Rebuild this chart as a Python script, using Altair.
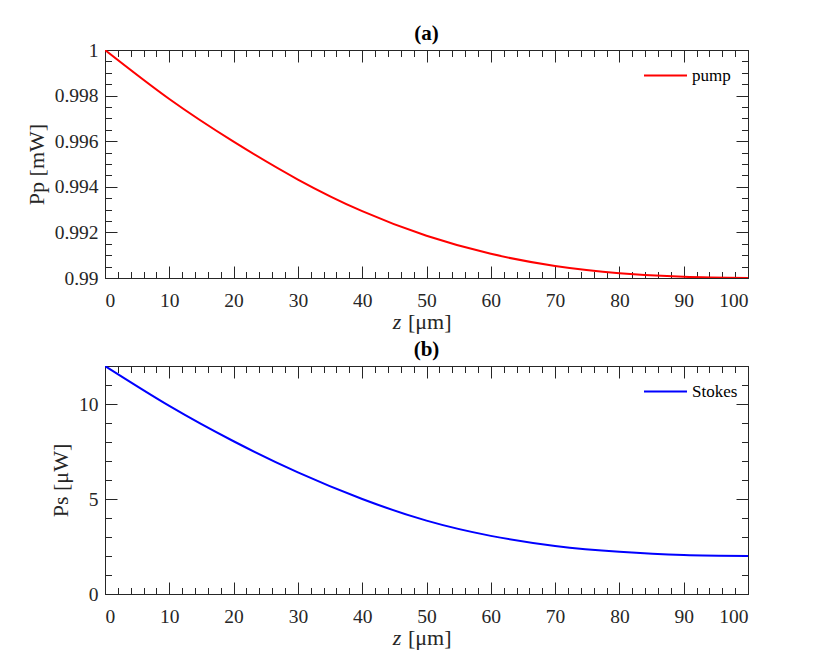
import altair as alt
import pandas as pd

FONT = "Liberation Serif"
INK = "#262626"

# ---- data ----
z_vals = [0, 10, 20, 30, 40, 50, 60, 70, 80, 90, 100]
pump_vals = [1.0, 0.99785, 0.99598, 0.99432, 0.99293, 0.99185, 0.99106, 0.99053, 0.99021, 0.99005, 0.99000]
stokes_vals = [12.0, 9.90, 8.04, 6.40, 5.00, 3.86, 3.06, 2.53, 2.22, 2.05, 2.0]

x_major = [0, 10, 20, 30, 40, 50, 60, 70, 80, 90, 100]
x_minor = list(range(0, 101, 2))
pump_major = [0.99, 0.992, 0.994, 0.996, 0.998, 1.0]
pump_minor = [round(0.99 + 0.0005 * i, 4) for i in range(21)]
stokes_major = [0, 5, 10]
stokes_minor = list(range(0, 13))

W, H = 643, 228
MAJ, MIN = 12, 6.5


def axis(orient, values, size, labels, title=None, fmt=None, label_pad=7):
    kw = dict(orient=orient, values=values, tickSize=size, offset=-size,
              labels=labels, grid=False, domain=False, tickColor=INK,
              tickWidth=1, title=title, minExtent=0, maxExtent=120)
    if labels:
        kw.update(labelFont=FONT, labelFontSize=19.5, labelColor=INK,
                  labelPadding=label_pad)
        if fmt:
            kw["format"] = fmt
    if title:
        kw.update(titleFont=FONT, titleFontSize=22, titleFontWeight="normal",
                  titleColor=INK, titlePadding=6)
    return kw


def panel(df, ycol, ydom, ymaj, ymin, yfmt, ytitle, color, name, title):
    xs = alt.Scale(domain=[0, 100], nice=False)
    ys = alt.Scale(domain=ydom, nice=False, zero=False)
    base = alt.Chart(df)

    line = base.mark_line(strokeWidth=2, interpolate="natural", clip=True).encode(
        x=alt.X("z:Q", scale=xs, axis=alt.Axis(**axis("bottom", x_major, MAJ, True, fmt="d", label_pad=13))),
        y=alt.Y(f"{ycol}:Q", scale=ys, axis=alt.Axis(**axis("left", ymaj, MAJ, True, title=ytitle, fmt=yfmt))),
        color=alt.Color("series:N",
                        scale=alt.Scale(domain=[name], range=[color]),
                        legend=alt.Legend(orient="none", legendX=W - 105, legendY=3,
                                          title=None, symbolType="stroke",
                                          symbolSize=1849, symbolStrokeWidth=2,
                                          labelFont=FONT, labelFontSize=17,
                                          labelColor="black", labelOffset=4,
                                          padding=0)),
    )
    minor1 = base.mark_line(opacity=0).encode(
        x=alt.X("z:Q", scale=xs, axis=alt.Axis(**axis("bottom", x_minor, MIN, False))),
        y=alt.Y(f"{ycol}:Q", scale=ys, axis=alt.Axis(**axis("left", ymin, MIN, False))),
    )
    major2 = base.mark_line(opacity=0).encode(
        x=alt.X("z:Q", scale=xs, axis=alt.Axis(**axis("top", x_major, MAJ, False))),
        y=alt.Y(f"{ycol}:Q", scale=ys, axis=alt.Axis(**axis("right", ymaj, MAJ, False))),
    )
    minor2 = base.mark_line(opacity=0).encode(
        x=alt.X("z:Q", scale=xs, axis=alt.Axis(**axis("top", x_minor, MIN, False))),
        y=alt.Y(f"{ycol}:Q", scale=ys, axis=alt.Axis(**axis("right", ymin, MIN, False))),
    )
    zt = alt.Chart(pd.DataFrame({"t": ["z"]})).mark_text(
        font=FONT, fontSize=22, fontStyle="italic", align="center",
        baseline="alphabetic", color=INK).encode(
        text="t:N", x=alt.value(292), y=alt.value(H + 51))
    ut = alt.Chart(pd.DataFrame({"t": ["[μm]"]})).mark_text(
        font=FONT, fontSize=22, align="left",
        baseline="alphabetic", color=INK).encode(
        text="t:N", x=alt.value(303), y=alt.value(H + 51))
    tt = alt.Chart(pd.DataFrame({"t": [title]})).mark_text(
        font=FONT, fontSize=21, fontWeight="bold", align="center",
        baseline="alphabetic", color="black").encode(
        text="t:N", x=alt.value(W / 2), y=alt.value(-10))

    return alt.layer(line, minor1, major2, minor2, zt, ut, tt).resolve_axis(
        x="independent", y="independent").properties(width=W, height=H)


df_a = pd.DataFrame({"z": z_vals, "pp": pump_vals, "series": "pump"})
df_b = pd.DataFrame({"z": z_vals, "ps": stokes_vals, "series": "Stokes"})

top = panel(df_a, "pp", [0.99, 1.0], pump_major, pump_minor, "~g", "Pp  [mW]", "#ff0000", "pump", "(a)")
bot = panel(df_b, "ps", [0, 12], stokes_major, stokes_minor, "d", "Ps  [μW]", "#0000ff", "Stokes", "(b)")

chart = alt.vconcat(top, bot, spacing=4).resolve_scale(color="independent").configure_view(
    stroke=INK, strokeWidth=1).properties(
    padding={"left": 16, "top": 14, "right": 5, "bottom": 5},
    background="white")

chart.save("out.html", embed_options={"renderer": "svg", "actions": False})
